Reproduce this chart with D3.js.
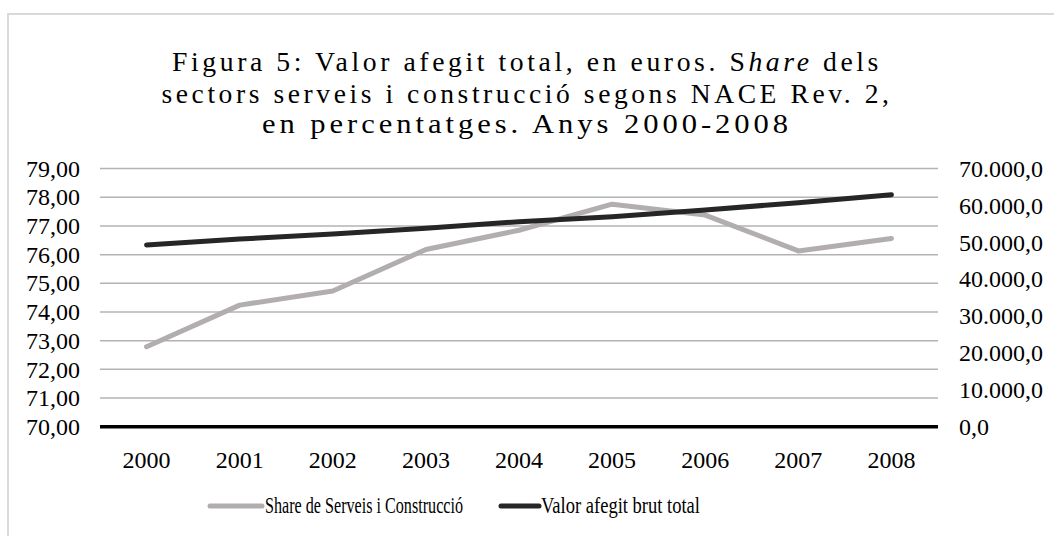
<!DOCTYPE html>
<html>
<head>
<meta charset="utf-8">
<script src="https://cdn.jsdelivr.net/npm/d3@7"></script>
<style>
  body { margin: 0; background: #fff; }
  svg { display: block; font-family: "Liberation Serif", "Times New Roman", serif; }
  text { font-family: "Liberation Serif", "Times New Roman", serif; }
</style>
</head>
<body>
<svg id="chart" width="1054" height="536"></svg>
<script>
// data
const years = ["2000", "2001", "2002", "2003", "2004", "2005", "2006", "2007", "2008"];
const shareServeis = [72.79, 74.24, 74.73, 76.18, 76.85, 77.76, 77.38, 76.13, 76.56];
const valorAfegit = [49300, 50900, 52250, 53800, 55600, 56950, 58770, 60760, 62930];
const leftTicks = [70, 71, 72, 73, 74, 75, 76, 77, 78, 79];
const rightTicks = [0, 10000, 20000, 30000, 40000, 50000, 60000, 70000];
const seriesNames = ["Share de Serveis i Construcció", "Valor afegit brut total"];

const locale = d3.formatLocale({ decimal: ",", thousands: ".", grouping: [3], currency: ["", "€"] });

const svg = d3.select('#chart');

// outer border
svg.append('rect')
   .attr('x', 8).attr('y', 14)
   .attr('width', 1200).attr('height', 700)
   .attr('fill', 'none')
   .attr('stroke', '#d9d9d9')
   .attr('stroke-width', 2);

// title, three spaced-out lines fitted to the widths in the picture
let titleLine = (y, len) => svg.append('text')
   .attr('x', 527).attr('y', y)
   .attr('text-anchor', 'middle')
   .attr('textLength', len)
   .attr('lengthAdjust', 'spacingAndGlyphs')
   .style('font-size', '27px')
   .style('letter-spacing', '3.5px')
   .attr('fill', '#000');

let l1 = titleLine(71, 710);
l1.append('tspan').text('Figura 5: Valor afegit total, en euros. S');
l1.append('tspan').style('font-style', 'italic').text('hare');
l1.append('tspan').text(' dels');
titleLine(103, 731).text('sectors serveis i construcció segons NACE Rev. 2,');
titleLine(133, 530).text('en percentatges. Anys 2000-2008');

let xScale = d3.scaleBand().domain(years).range([100, 938]);
let yLeft = d3.scaleLinear().domain([70, 79]).range([426.7, 168.6]);
let yRight = d3.scaleLinear().domain([0, 70000]).range([426.7, 168.6]);

// gridlines
svg.append('g')
   .selectAll('line')
   .data(leftTicks.slice(1))
   .enter()
   .append('line')
   .attr('x1', 100).attr('x2', 938)
   .attr('y1', d => yLeft(d)).attr('y2', d => yLeft(d))
   .attr('stroke', '#b3b3b3')
   .attr('stroke-width', 1.5);

// axes
let leftAxis = svg.append('g')
   .attr('transform', 'translate(80,0)')
   .call(d3.axisLeft(yLeft).tickValues(leftTicks).tickSize(0).tickPadding(0).tickFormat(locale.format(',.2f')));
let rightAxis = svg.append('g')
   .attr('transform', 'translate(959,0)')
   .call(d3.axisRight(yRight).tickValues(rightTicks).tickSize(0).tickPadding(0).tickFormat(locale.format(',.1f')));
let bottomAxis = svg.append('g')
   .attr('transform', 'translate(0,427)')
   .call(d3.axisBottom(xScale).tickSize(0).tickPadding(24));

[leftAxis, rightAxis, bottomAxis].forEach(a => {
    a.select('.domain').remove();
    a.selectAll('text')
     .style('font-family', '"Liberation Serif", serif')
     .style('font-size', '24px')
     .attr('fill', '#000');
});

// baseline
svg.append('line')
   .attr('x1', 100).attr('x2', 938)
   .attr('y1', yLeft(70)).attr('y2', yLeft(70))
   .attr('stroke', '#000')
   .attr('stroke-width', 3.5);

let cx = d => xScale(d) + xScale.bandwidth() / 2;

svg.append('path')
   .datum(shareServeis)
   .attr('fill', 'none')
   .attr('stroke', '#b2aeae')
   .attr('stroke-width', 5)
   .attr('stroke-linecap', 'round')
   .attr('stroke-linejoin', 'round')
   .attr('d', d3.line().x((d, i) => cx(years[i])).y(d => yLeft(d)));

svg.append('path')
   .datum(valorAfegit)
   .attr('fill', 'none')
   .attr('stroke', '#262626')
   .attr('stroke-width', 5)
   .attr('stroke-linecap', 'round')
   .attr('stroke-linejoin', 'round')
   .attr('d', d3.line().x((d, i) => cx(years[i])).y(d => yRight(d)));

// legend
let legend = svg.append('g');
let legendItems = [
    { name: seriesNames[0], color: '#b2aeae', x1: 210, x2: 262, tx: 265, len: 198 },
    { name: seriesNames[1], color: '#262626', x1: 501, x2: 539, tx: 541, len: 159 }
];
legendItems.forEach(it => {
    legend.append('line')
          .attr('x1', it.x1).attr('x2', it.x2)
          .attr('y1', 506).attr('y2', 506)
          .attr('stroke', it.color)
          .attr('stroke-width', 5)
          .attr('stroke-linecap', 'round');
    legend.append('text')
          .attr('x', it.tx).attr('y', 513)
          .attr('textLength', it.len)
          .attr('lengthAdjust', 'spacingAndGlyphs')
          .style('font-size', '23px')
          .attr('fill', '#000')
          .text(it.name);
});
</script>
</body>
</html>
